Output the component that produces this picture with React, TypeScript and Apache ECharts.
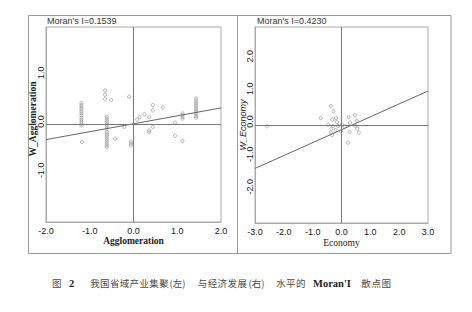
import React, { useEffect, useRef } from "react";
import * as echarts from "echarts";

// Moran's I values
const moranLeft = 0.1539;
const moranRight = 0.423;

// Left panel: Agglomeration vs W_Agglomeration
const leftPoints: [number, number][] = [
  [-1.19, 0.44], [-1.19, 0.40], [-1.19, 0.36], [-1.19, 0.32], [-1.19, 0.27], [-1.19, 0.23],
  [-1.19, 0.19], [-1.19, 0.14], [-1.19, 0.10], [-1.19, 0.06], [-1.19, 0.02], [-1.19, -0.02],
  [-1.18, -0.36],
  [-0.61, 0.16], [-0.61, 0.12], [-0.61, 0.08], [-0.61, 0.04], [-0.61, 0.0], [-0.61, -0.04], [-0.61, -0.08],
  [-0.61, -0.15], [-0.61, -0.19], [-0.61, -0.23], [-0.61, -0.27], [-0.61, -0.31], [-0.61, -0.35],
  [-0.61, -0.39], [-0.61, -0.43], [-0.61, -0.46],
  [-0.65, 0.70], [-0.65, 0.61], [-0.65, 0.52], [-0.51, 0.50],
  [-0.10, 0.57], [-0.42, -0.29], [-0.21, -0.05],
  [-0.06, -0.35], [-0.06, -0.39], [-0.06, -0.43],
  [0.08, 0.10], [0.14, 0.15], [0.25, 0.21], [0.36, 0.15], [0.44, 0.29], [0.44, 0.40], [0.67, 0.35],
  [0.44, -0.05], [0.36, -0.12], [0.36, -0.16],
  [0.95, 0.04], [0.95, -0.23], [1.12, -0.34],
  [1.12, 0.23], [1.12, 0.19], [1.12, 0.15], [1.12, 0.12],
  [1.43, 0.53], [1.43, 0.49], [1.43, 0.45], [1.43, 0.41], [1.43, 0.37], [1.43, 0.33],
  [1.43, 0.29], [1.43, 0.25], [1.43, 0.21], [1.43, 0.17], [1.43, 0.14],
];

// Right panel: Economy vs W_Economy
const rightPoints: [number, number][] = [
  [-0.37, 0.58], [-0.28, 0.42], [-0.72, 0.21], [-0.32, 0.17], [-0.19, 0.21], [-0.16, 0.09],
  [0.25, 0.24], [0.46, 0.30], [0.53, 0.13], [0.30, 0.07], [-0.46, 0.01], [-0.29, -0.03],
  [-0.12, -0.03], [0.02, 0.01], [0.11, -0.05], [-0.35, -0.11], [-0.21, -0.15], [-0.37, -0.23],
  [-0.32, -0.31], [-0.02, -0.19], [0.48, -0.03], [0.55, -0.11], [0.60, -0.23], [0.28, -0.21],
  [0.23, -0.54], [-2.58, -0.04],
];

// Regression (Moran) line end points
const leftLineX = [-2, 2];
const leftLineY = [-0.31, 0.34];
const rightLineX = [-3, 3];
const rightLineY = [-1.33, 1.04];

const leftXTicks = [-2, -1, 0, 1, 2];
const leftYTicks = [-1, 0, 1];
const rightXTicks = [-3, -2, -1, 0, 1, 2, 3];
const rightYTicks = [-2, -1, 0, 1, 2];

const leftRange = [-2, 2];
const rightRange = [-3, 3];

const leftXName = "Agglomeration";
const leftYName = "W_Agglomeration";
const rightXName = "Economy";
const rightYName = "W_Economy";

// Caption pieces
const captionPieces: { t: string; x: number; pitch?: number; bold?: boolean; latin?: boolean }[] = [
  { t: "图", x: 52 },
  { t: "2", x: 69, bold: true, latin: true },
  { t: "我国省域产业集聚", x: 90.2, pitch: 9.85 },
  { t: "(左)", x: 169.5 },
  { t: "与经济发展", x: 197.8, pitch: 9.9 },
  { t: "(右)", x: 248.5 },
  { t: "水平的", x: 276.2, pitch: 9.9 },
  { t: "Moran'I", x: 313, bold: true, latin: true },
  { t: "散点图", x: 361.2, pitch: 10.2 },
];

const fmt = (v: number) => v.toFixed(1);

export default function App() {
  const ref = useRef<HTMLDivElement>(null);
  useEffect(() => {
    if (!ref.current) return;
    const chart = echarts.init(ref.current, null, { renderer: "svg" });
    const tickFont = { fontSize: 9, color: "#1a1a1a", fontFamily: "Liberation Sans" };
    const axisCommon = {
      type: "value" as const,
      axisTick: { show: false },
      splitLine: { show: false },
      axisLine: { show: true, onZero: false, lineStyle: { color: "#aaa", width: 1 } },
      nameLocation: "middle" as const,
      nameMoveOverlap: false,
    };
    const scatterStyle = {
      color: "rgba(255,255,255,0)",
      borderColor: "#8a8a8a",
      borderWidth: 0.8,
    };
    const zeroLine = {
      silent: true,
      symbol: ["none", "none"],
      label: { show: false },
      lineStyle: { color: "#777", width: 1, type: "solid" },
      data: [{ xAxis: 0 }, { yAxis: 0 }],
    };

    const captionGraphics: any[] = [];
    captionPieces.forEach((p) => {
      const style = p.latin
        ? { fontSize: 10.5, fontFamily: "Liberation Serif", fontWeight: "bold", fill: "#222" }
        : { fontSize: 9.5, fontFamily: "Noto Sans CJK SC", fill: "#4a4a4a" };
      if (p.pitch) {
        Array.from(p.t).forEach((ch, i) => {
          captionGraphics.push({
            type: "text",
            x: p.x + i * p.pitch!,
            y: 283,
            style: { text: ch, verticalAlign: "middle", ...style },
          });
        });
      } else {
        captionGraphics.push({
          type: "text",
          x: p.x,
          y: 283,
          style: { text: p.t, verticalAlign: "middle", ...style },
        });
      }
    });

    chart.setOption({
      animation: false,
      backgroundColor: "#fff",
      grid: [
        { left: 46, top: 27, width: 175, height: 195, show: true, borderColor: "#aaa", borderWidth: 1, outerBoundsMode: "none", containLabel: false },
        { left: 255, top: 27, width: 173, height: 196, show: true, borderColor: "#aaa", borderWidth: 1, outerBoundsMode: "none", containLabel: false },
      ],
      xAxis: [
        {
          ...axisCommon,
          gridIndex: 0,
          min: leftRange[0],
          max: leftRange[1],
          axisLabel: { ...tickFont, margin: 4, customValues: leftXTicks, formatter: fmt },
          name: leftXName,
          nameGap: 14,
          nameTextStyle: { fontFamily: "Liberation Serif", fontWeight: "bold", fontSize: 9.5, color: "#222" },
        },
        {
          ...axisCommon,
          gridIndex: 1,
          min: rightRange[0],
          max: rightRange[1],
          axisLabel: { ...tickFont, margin: 4, customValues: rightXTicks, formatter: fmt },
          name: rightXName,
          nameGap: 15,
          nameTextStyle: { fontFamily: "Liberation Serif", fontSize: 9.5, color: "#222" },
        },
      ],
      yAxis: [
        {
          ...axisCommon,
          gridIndex: 0,
          min: leftRange[0],
          max: leftRange[1],
          axisLabel: { ...tickFont, margin: 1, rotate: 90, customValues: leftYTicks, formatter: fmt, padding: [0, 0, 0, 6] },
        },
        {
          ...axisCommon,
          gridIndex: 1,
          min: rightRange[0],
          max: rightRange[1],
          axisLabel: { ...tickFont, margin: 1, rotate: 90, customValues: rightYTicks, formatter: fmt, padding: [0, 0, 0, 7] },
          name: rightYName,
          nameGap: 8,
          nameTextStyle: { fontFamily: "Liberation Sans", fontStyle: "italic", fontSize: 9, color: "#222" },
        },
      ],
      series: [
        {
          type: "scatter",
          xAxisIndex: 0,
          yAxisIndex: 0,
          data: leftPoints,
          symbol: "circle",
          symbolSize: 3.2,
          itemStyle: scatterStyle,
          markLine: zeroLine,
        },
        {
          type: "line",
          xAxisIndex: 0,
          yAxisIndex: 0,
          data: leftLineX.map((x, i) => [x, leftLineY[i]]),
          showSymbol: false,
          lineStyle: { color: "#666", width: 1 },
        },
        {
          type: "scatter",
          xAxisIndex: 1,
          yAxisIndex: 1,
          data: rightPoints,
          symbol: "circle",
          symbolSize: 3.2,
          itemStyle: scatterStyle,
          markLine: zeroLine,
        },
        {
          type: "line",
          xAxisIndex: 1,
          yAxisIndex: 1,
          data: rightLineX.map((x, i) => [x, rightLineY[i]]),
          showSymbol: false,
          lineStyle: { color: "#666", width: 1 },
        },
      ],
      graphic: [
        {
          type: "rect",
          shape: { x: 28.5, y: 15.5, width: 422.5, height: 238 },
          style: { fill: "none", stroke: "#999", lineWidth: 1 },
          silent: true,
        },
        {
          type: "line",
          shape: { x1: 237.5, y1: 15.5, x2: 237.5, y2: 253.5 },
          style: { stroke: "#999", lineWidth: 1 },
          silent: true,
        },
        {
          type: "text",
          x: 33,
          y: 119,
          rotation: Math.PI / 2,
          style: {
            text: leftYName,
            fontSize: 9.5,
            fontFamily: "Liberation Serif",
            fontWeight: "bold",
            fill: "#222",
            align: "center",
            verticalAlign: "middle",
          },
        },
        {
          type: "text",
          x: 47,
          y: 21,
          style: {
            text: "Moran's I=" + moranLeft.toFixed(4),
            fontSize: 9,
            fontFamily: "Liberation Sans",
            fill: "#333",
            verticalAlign: "middle",
          },
        },
        {
          type: "text",
          x: 257,
          y: 21,
          style: {
            text: "Moran's I=" + moranRight.toFixed(4),
            fontSize: 9,
            fontFamily: "Liberation Sans",
            fill: "#333",
            verticalAlign: "middle",
          },
        },
        ...captionGraphics,
      ],
    });
    return () => chart.dispose();
  }, []);
  return (
    <div
      ref={ref}
      style={{ position: "fixed", left: 0, top: 0, width: 472, height: 312, background: "#fff" }}
    />
  );
}
